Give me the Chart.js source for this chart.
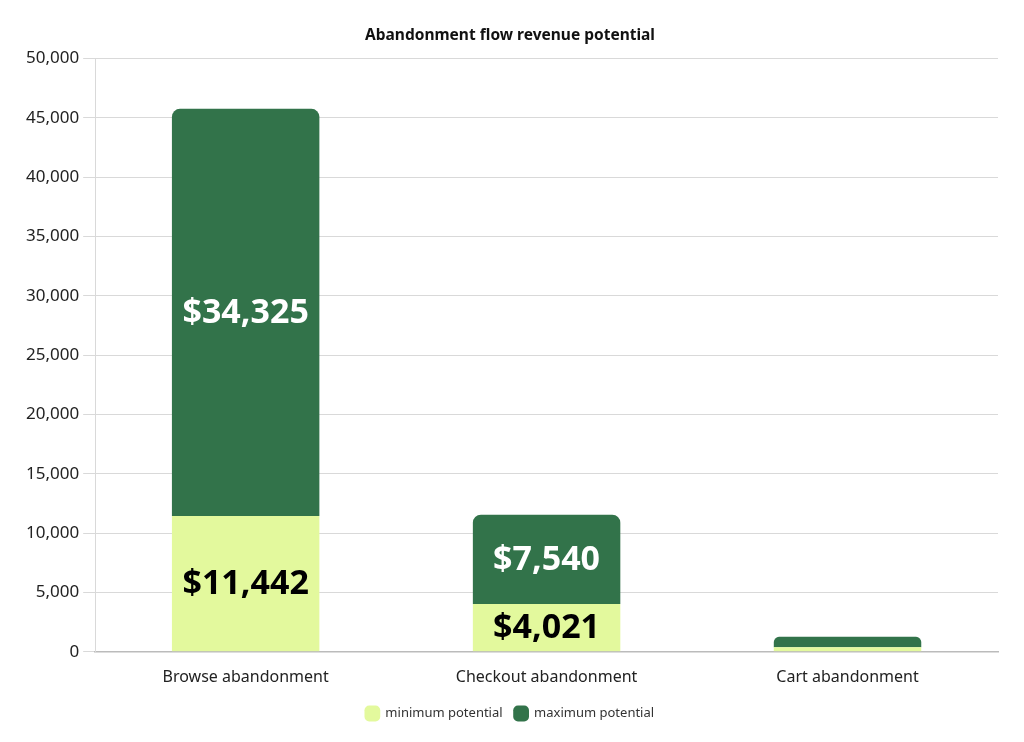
<!DOCTYPE html>
<html>
<head>
<meta charset="utf-8">
<script src="https://cdn.jsdelivr.net/npm/chart.js@4"></script>
<style>
  html, body { margin: 0; padding: 0; background: #fff; }
  #wrap { width: 1024px; height: 742px; }
</style>
</head>
<body>
<div id="wrap"><canvas id="myChart"></canvas></div>
<script>
const categories = ['Browse abandonment', 'Checkout abandonment', 'Cart abandonment'];
const minPotential = [11442, 4021, 380];
const maxPotential = [34325, 7540, 880];
const labelIndexes = [0, 1]; // cart bar is too thin for a label
const yTicks = [0, 5000, 10000, 15000, 20000, 25000, 30000, 35000, 40000, 45000, 50000];

const FONT = "'Noto Sans', sans-serif";

// draws the "$" values inside the segments
const barLabels = {
  id: 'barLabels',
  afterDatasetsDraw(chart) {
    const ctx = chart.ctx;
    ctx.save();
    ctx.font = 'bold 34px ' + FONT;
    ctx.textAlign = 'center';
    ctx.textBaseline = 'middle';
    chart.data.datasets.forEach((ds, di) => {
      const meta = chart.getDatasetMeta(di);
      labelIndexes.forEach(i => {
        const bar = meta.data[i];
        const mid = (bar.y + bar.base) / 2;
        ctx.fillStyle = di === 0 ? '#000' : '#fff';
        ctx.fillText('$' + ds.data[i].toLocaleString('en-US'), bar.x, mid + 1);
      });
    });
    ctx.restore();
  }
};

new Chart(document.getElementById('myChart').getContext('2d'), {
  type: 'bar',
  data: {
    labels: categories,
    datasets: [
      {
        label: 'minimum potential',
        data: minPotential,
        backgroundColor: '#e3f99d',
        borderRadius: 0,
        borderSkipped: false
      },
      {
        label: 'maximum potential',
        data: maxPotential,
        backgroundColor: '#32734a',
        borderRadius: { topLeft: 8, topRight: 8, bottomLeft: 0, bottomRight: 0 },
        borderSkipped: false
      }
    ]
  },
  options: {
    responsive: true,
    maintainAspectRatio: false,
    animation: false,
    layout: { padding: { left: 22, right: 26, top: 26, bottom: 12 } },
    datasets: {
      bar: { categoryPercentage: 1, barPercentage: 0.49 }
    },
    plugins: {
      title: {
        display: true,
        text: 'Abandonment flow revenue potential',
        color: '#111',
        font: { family: FONT, size: 15.5, weight: 'bold' },
        padding: { top: 0, bottom: 14 }
      },
      legend: {
        position: 'bottom',
        labels: {
          usePointStyle: true,
          pointStyle: 'rectRounded',
          boxWidth: 13,
          boxHeight: 13,
          color: '#333',
          padding: 12,
          font: { family: FONT, size: 13 }
        }
      },
      tooltip: { enabled: false }
    },
    scales: {
      x: {
        stacked: true,
        grid: { display: false },
        border: { color: '#bbb', width: 1.5 },
        ticks: { color: '#222', padding: 8, font: { family: FONT, size: 16 } }
      },
      y: {
        stacked: true,
        min: 0,
        max: 50000,
        afterBuildTicks(axis) { axis.ticks = yTicks.map(v => ({ value: v })); },
        grid: { color: '#d9d9d9', tickLength: 12 },
        border: { color: '#d9d9d9' },
        ticks: {
          color: '#222',
          padding: 4,
          font: { family: FONT, size: 17 },
          callback: v => v.toLocaleString('en-US')
        }
      }
    }
  },
  plugins: [barLabels]
});
</script>
</body>
</html>
